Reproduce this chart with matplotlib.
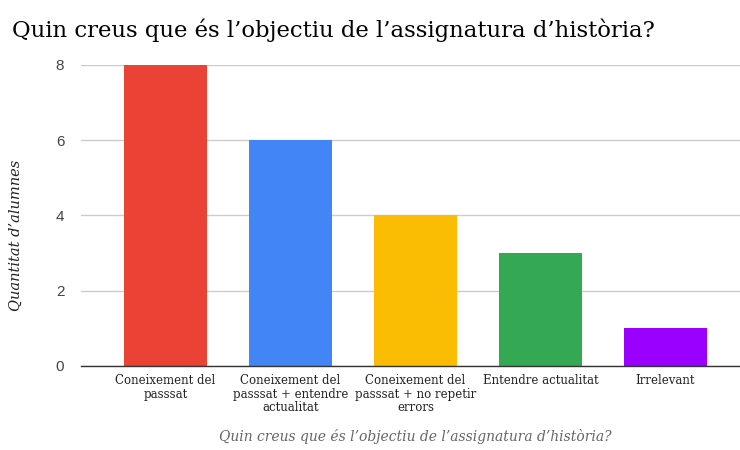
#!/usr/bin/python3

import numpy
from matplotlib import pyplot as plt

categories = [
    'Coneixement del\npasssat',
    'Coneixement del\npasssat + entendre\nactualitat',
    'Coneixement del\npasssat + no repetir\nerrors',
    'Entendre actualitat',
    'Irrelevant',
]
counts = [8, 6, 4, 3, 1]
bar_colors = ['#ea4335', '#4285f4', '#fbbc04', '#34a853', '#9900ff']
yticks = [0, 2, 4, 6, 8]

title = 'Quin creus que és l’objectiu de l’assignatura d’història?'
xlabel = 'Quin creus que és l’objectiu de l’assignatura d’història?'
ylabel = 'Quantitat d’alumnes'


def main():
    serif = ['DejaVu Serif']
    fig = plt.figure(figsize=(7.4, 4.5), dpi=100)
    ax = fig.add_axes([0.1095, 0.1867, 0.8905, 0.6689])

    x = numpy.arange(len(categories))
    ax.bar(x, counts, width=0.664, color=bar_colors, zorder=3)

    ax.set_xlim(-0.676, 4.596)
    ax.set_ylim(0, 8)
    ax.set_yticks(yticks)
    ax.set_yticklabels([str(v) for v in yticks], family='Liberation Sans',
                       fontsize=11, color='#444444')
    ax.set_xticks(x)
    ax.set_xticklabels(categories, family=serif, fontsize=8.5,
                       color='#222222', linespacing=1.05)
    ax.tick_params(axis='both', length=0)
    ax.tick_params(axis='y', pad=12)
    ax.tick_params(axis='x', pad=6)

    ax.grid(True, axis='y', color='#cccccc', linewidth=1, zorder=0)
    for side in ['top', 'right', 'left']:
        ax.spines[side].set_visible(False)
    ax.spines['bottom'].set_color('#333333')
    ax.spines['bottom'].set_linewidth(1)
    ax.spines['bottom'].set_zorder(4)

    fig.text(0.016, 0.918, title, family=serif, fontsize=16.4,
             color='#000000', va='baseline', ha='left')
    fig.text(0.561, 0.013, xlabel, family=serif, style='italic',
             fontsize=10, color='#666666', ha='center', va='bottom')
    fig.text(0.022, 0.478, ylabel, family=serif, style='italic',
             fontsize=10.5, color='#222222', rotation=90,
             ha='center', va='center')

    plt.savefig('out.png', dpi=100)
    plt.close()


if __name__ == "__main__": main()
